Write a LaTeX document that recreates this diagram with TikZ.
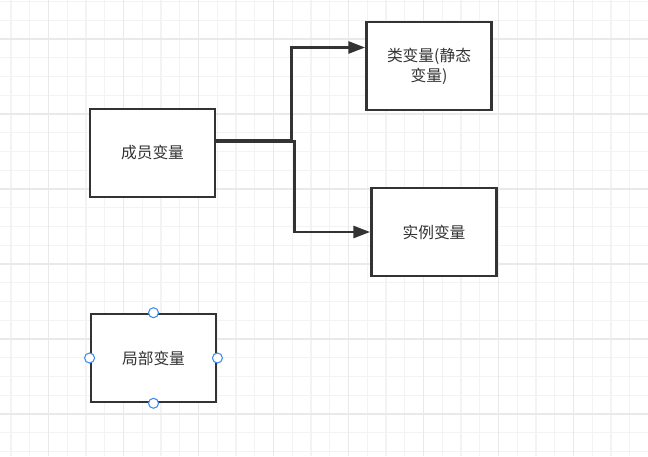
\documentclass[tikz,border=0pt]{standalone}
\usepackage{fontspec}
\newfontfamily\cjk{Noto Sans CJK SC}
\usetikzlibrary{arrows.meta,calc}
\definecolor{ink}{HTML}{333333}
\definecolor{gmin}{HTML}{F3F3F3}
\definecolor{gmaj}{HTML}{E9E9E9}
\definecolor{hdl}{HTML}{3C8CF0}
\tikzset{
  >={Triangle[length=12.5pt,width=9pt]},
  vbox/.style={draw=ink,line width=1.9pt,fill=white,minimum width=94pt,minimum height=66pt,
    font=\cjk\fontsize{11.8}{15}\selectfont,text=ink,align=center,inner sep=2pt},
  conn/.style={->,draw=ink,line width=1.9pt},
  handle/.style={circle,draw=hdl,line width=0.8pt,fill=white,minimum size=7.5pt,inner sep=0pt},
}
\begin{document}
\begin{tikzpicture}[x=0.75pt,y=-0.75pt]
\useasboundingbox[fill=white] (0,0) rectangle (648,456);
% grid
\foreach \gx in {11,29.75,...,648} \draw[gmin,line width=0.8pt] (\gx,0) -- (\gx,456);
\foreach \gy in {1.5,20.25,...,456} \draw[gmin,line width=0.8pt] (0,\gy) -- (648,\gy);
\foreach \gx in {48.5,123.5,...,648} \draw[gmaj,line width=0.8pt] (\gx,0) -- (\gx,456);
\foreach \gy in {39,114,...,456} \draw[gmaj,line width=0.8pt] (0,\gy) -- (648,\gy);

\node[vbox] (cy) at (152.5,153) {成员变量};
\node[vbox] (lbl) at (429,66) {类变量(静态\\变量)};
\node[vbox] (sl) at (434,232) {实例变量};
\node[vbox] (jb) at (153.5,358) {局部变量};
\foreach \a in {north,south,east,west} \node[handle] (jb-\a) at (jb.\a) {};

\coordinate (o1) at ($(cy.east)+(0,-13)$);
\coordinate (o2) at ($(cy.east)+(0,-11.5)$);
\draw[conn] (o1) -- ++(75,0) |- ($(lbl.west)+(0,-18.5)$);
\draw[conn] (o2) -- ++(78,0) |- (sl.west);
\end{tikzpicture}
\end{document}
